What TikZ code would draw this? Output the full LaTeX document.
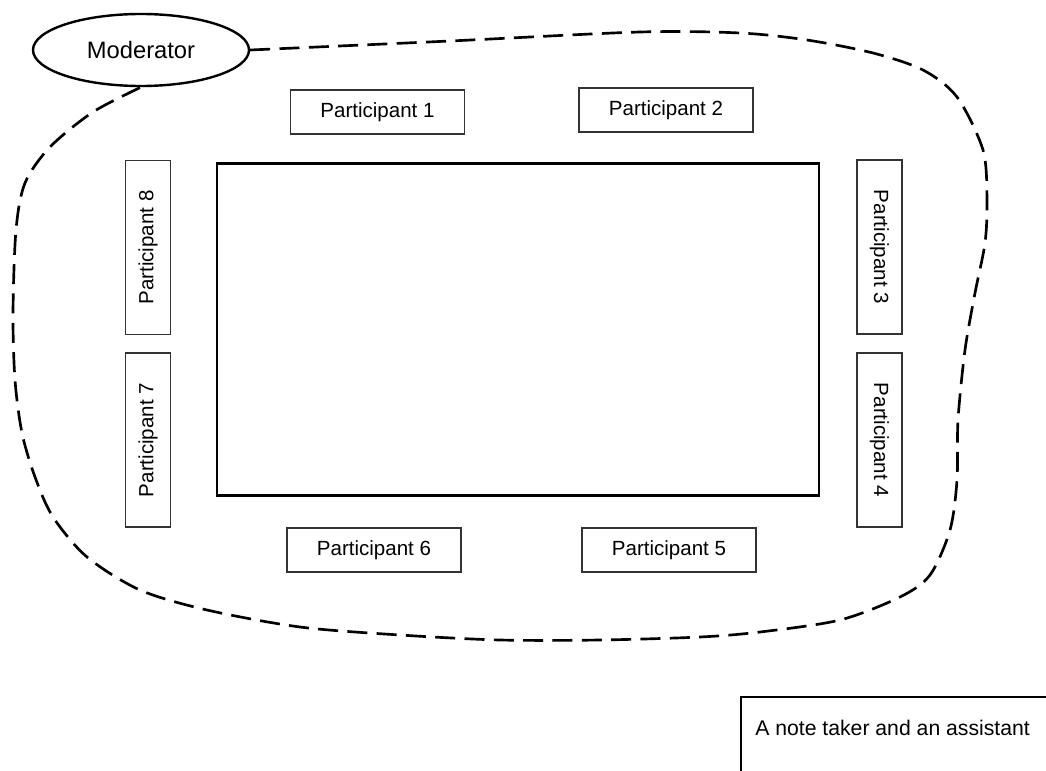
\documentclass[tikz,border=0pt]{standalone}
\usepackage{fontspec}
\setmainfont{Liberation Sans}
\usetikzlibrary{shapes.geometric}
\begin{document}
\begin{tikzpicture}[x=0.75pt,y=-0.75pt,
  seat/.style={draw=black!80, line width=0.8pt, fill=white, inner sep=0pt,
    font=\fontsize{15.4}{18}\selectfont},
  hseat/.style={seat, minimum width=174*0.75pt, minimum height=44*0.75pt},
  vseat/.style={seat, minimum width=45*0.75pt, minimum height=174*0.75pt},
  tablebox/.style={draw, line width=1.8pt, inner sep=0pt,
    minimum width=602*0.75pt, minimum height=332*0.75pt},
  modnode/.style={draw, ellipse, line width=1.8pt, inner sep=0pt, fill=white,
    minimum width=216*0.75pt, minimum height=72*0.75pt,
    font=\fontsize{17.8}{20}\selectfont},
  boundary/.style={line width=2pt, dash pattern=on 15pt off 7pt},
  notebox/.style={draw, line width=1.2pt, inner sep=0pt,
    minimum width=330*0.75pt, minimum height=100*0.75pt},
  notetext/.style={inner sep=0pt, font=\fontsize{15.9}{18}\selectfont}]
\clip (0,0) rectangle (1046,771);
\fill[white] (0,0) rectangle (1046,771);

% the table
\node[tablebox] (table) at (518,329.5) {};

% seats around the table
\node[hseat] (p1) at (377.5,112) {Participant 1};
\node[hseat] (p2) at (666,110) {Participant 2};
\node[vseat] (p3) at (879.5,247) {\rotatebox{-90}{Participant 3}};
\node[vseat] (p4) at (879.5,440) {\rotatebox{-90}{Participant 4}};
\node[hseat] (p5) at (669,550) {Participant 5};
\node[hseat] (p6) at (374,550) {Participant 6};
\node[vseat] (p7) at (148,440) {\rotatebox{90}{Participant 7}};
\node[vseat] (p8) at (148,247.5) {\rotatebox{90}{Participant 8}};

% moderator and the group boundary
\node[modnode] (mod) at (141,50) {Moderator};
\draw[boundary] plot[smooth] coordinates {
  (mod.east) (450,41) (640,32) (740,33) (807,40) (873,53) (923,70)
  (957,97) (983,150) (987,200) (985,243) (975,293) (965,350) (958,420)
  (957,480) (950,530) (930,575) (900,597) (840,620) (760,632) (700,637)
  (600,640) (500,640) (400,635) (300,627) (207,610) (140,590) (87,557)
  (53,517) (35,477) (22,433) (15,380) (13,313) (16,230) (25,183)
  (50,147) (93,112) (mod.south)};

% note taker box
\node[notebox, anchor=north west] (note) at (740,696) {};
\node[notetext, anchor=west] (notelabel) at (755,728) {A note taker and an assistant};
\end{tikzpicture}
\end{document}
